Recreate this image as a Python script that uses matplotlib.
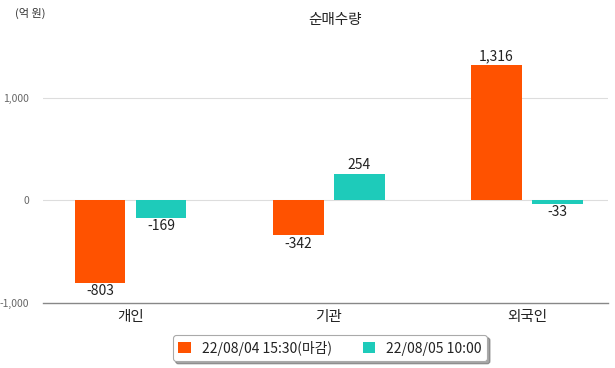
import matplotlib
matplotlib.use("Agg")
import matplotlib.pyplot as plt
import numpy as np

plt.rcParams['font.family'] = ['Noto Sans CJK KR', 'DejaVu Sans']

categories = ['개인', '기관', '외국인']
series_names = ['22/08/04 15:30(마감)', '22/08/05 10:00']
series1 = [-803, -342, 1316]
series2 = [-169, 254, -33]
colors = ['#FF5200', '#1ECBBA']
yticks = [-1000, 0, 1000]
ytick_labels = ['-1,000', '0', '1,000']

fig = plt.figure(figsize=(6.15, 3.68), dpi=100)
ax = fig.add_axes([43/615, 65/368, (608-43)/615, (332-65)/368])

x = np.arange(len(categories))
w = 0.253
off = 0.154
b1 = ax.bar(x - off, series1, w, color=colors[0], label=series_names[0], zorder=3)
b2 = ax.bar(x + off, series2, w, color=colors[1], label=series_names[1], zorder=3)

for bars, vals in ((b1, series1), (b2, series2)):
    for rect, v in zip(bars, vals):
        cx = rect.get_x() + rect.get_width()/2
        if v >= 0:
            ax.annotate(f'{v:,}', (cx, v), xytext=(0, 1.5), textcoords='offset points',
                        ha='center', va='bottom', fontsize=10, color='#222222')
        else:
            ax.annotate(f'{v:,}', (cx, v), xytext=(0, -1), textcoords='offset points',
                        ha='center', va='top', fontsize=10, color='#222222')

ax.set_xlim(-0.444, 2.409)
ax.set_ylim(-1000, 1600)
ax.set_yticks(yticks)
ax.set_yticklabels(ytick_labels, fontsize=7.5, color='#666666')
ax.set_xticks(x)
ax.set_xticklabels(categories, fontsize=10.5, color='#222222')
ax.tick_params(axis='both', length=0)
ax.tick_params(axis='y', pad=10)
ax.tick_params(axis='x', pad=5)
for s in ['top', 'right', 'left']:
    ax.spines[s].set_visible(False)
ax.spines['bottom'].set_color('#888888')
ax.spines['bottom'].set_linewidth(1.0)
for yv in [0, 1000]:
    ax.axhline(yv, color='#DDDDDD', lw=0.8, zorder=1)

fig.text(335/615, 1 - 20/368, '순매수량', ha='center', va='center', fontsize=10.5, color='#222222')
fig.text(15/615, 1 - 13/368, '(억 원)', ha='left', va='center', fontsize=8, color='#333333')

leg = fig.legend(loc='center', bbox_to_anchor=(330/615, 1 - 348/368), ncol=2, fontsize=10,
                 frameon=True, fancybox=True, shadow=True, handlelength=0.9, handleheight=0.9,
                 columnspacing=2.2, handletextpad=0.8, borderpad=0.4)
leg.get_frame().set_edgecolor('#AAAAAA')
leg.get_frame().set_linewidth(0.8)
for t in leg.get_texts():
    t.set_color('#222222')

fig.savefig('out.png', dpi=100)
